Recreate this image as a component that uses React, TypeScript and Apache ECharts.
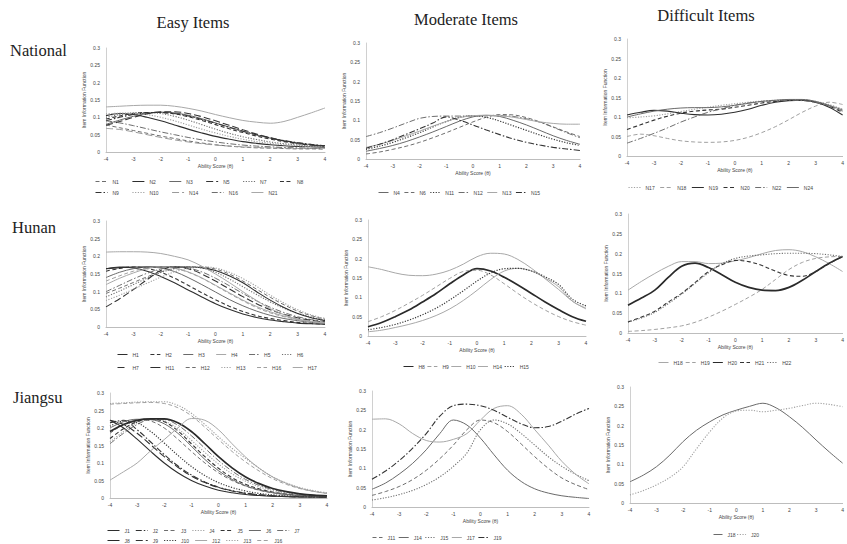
import React, { useEffect, useRef } from 'react';
import * as echarts from 'echarts';

// Ability score grid (theta) shared by every panel
const THETA = [-4, -3.5, -3, -2.5, -2, -1.5, -1, -0.5, 0, 0.5, 1, 1.5, 2, 2.5, 3, 3.5, 4];

const COLUMN_TITLES = ['Easy Items', 'Moderate Items', 'Difficult Items'];
const ROW_TITLES = ['National', 'Hunan', 'Jiangsu'];

// ---------- National ----------
const nationalEasyItems = ['N1', 'N2', 'N3', 'N5', 'N7', 'N8', 'N9', 'N10', 'N14', 'N16', 'N21'];
const nationalEasyValues = [
  [0.078, 0.07, 0.062, 0.054, 0.046, 0.039, 0.032, 0.026, 0.021, 0.017, 0.014, 0.012, 0.011, 0.01, 0.009, 0.009, 0.008],
  [0.105, 0.111, 0.108, 0.1, 0.09, 0.078, 0.066, 0.055, 0.045, 0.037, 0.03, 0.025, 0.021, 0.018, 0.016, 0.015, 0.014],
  [0.08, 0.092, 0.103, 0.111, 0.115, 0.113, 0.106, 0.096, 0.084, 0.072, 0.06, 0.049, 0.04, 0.032, 0.026, 0.021, 0.018],
  [0.077, 0.088, 0.1, 0.11, 0.116, 0.116, 0.111, 0.102, 0.09, 0.077, 0.064, 0.052, 0.041, 0.032, 0.025, 0.02, 0.016],
  [0.1, 0.108, 0.113, 0.114, 0.111, 0.103, 0.092, 0.079, 0.066, 0.054, 0.044, 0.036, 0.029, 0.024, 0.02, 0.017, 0.015],
  [0.095, 0.104, 0.111, 0.114, 0.114, 0.11, 0.102, 0.091, 0.079, 0.067, 0.056, 0.046, 0.037, 0.03, 0.024, 0.02, 0.017],
  [0.09, 0.1, 0.108, 0.113, 0.114, 0.111, 0.104, 0.094, 0.083, 0.071, 0.06, 0.05, 0.041, 0.033, 0.027, 0.022, 0.018],
  [0.11, 0.112, 0.112, 0.108, 0.1, 0.09, 0.078, 0.066, 0.055, 0.045, 0.037, 0.03, 0.025, 0.021, 0.018, 0.016, 0.015],
  [0.068, 0.065, 0.058, 0.05, 0.042, 0.035, 0.029, 0.024, 0.02, 0.017, 0.015, 0.013, 0.012, 0.011, 0.01, 0.01, 0.01],
  [0.09, 0.084, 0.076, 0.067, 0.058, 0.05, 0.042, 0.035, 0.029, 0.024, 0.02, 0.017, 0.015, 0.013, 0.012, 0.011, 0.011],
  [0.13, 0.132, 0.134, 0.135, 0.135, 0.132, 0.126, 0.118, 0.108, 0.099, 0.091, 0.086, 0.083, 0.088, 0.1, 0.113, 0.127],
];

const nationalModerateItems = ['N4', 'N6', 'N11', 'N12', 'N13', 'N15'];
const nationalModerateValues = [
  [0.02, 0.027, 0.035, 0.045, 0.057, 0.07, 0.084, 0.098, 0.109, 0.113, 0.11, 0.1, 0.088, 0.074, 0.06, 0.048, 0.038],
  [0.013, 0.018, 0.025, 0.033, 0.043, 0.055, 0.068, 0.082, 0.096, 0.108, 0.115, 0.114, 0.107, 0.096, 0.083, 0.07, 0.058],
  [0.025, 0.033, 0.043, 0.055, 0.068, 0.083, 0.097, 0.108, 0.112, 0.108, 0.098, 0.086, 0.074, 0.062, 0.051, 0.042, 0.035],
  [0.058, 0.068, 0.08, 0.093, 0.105, 0.11, 0.111, 0.111, 0.111, 0.112, 0.112, 0.11, 0.104, 0.095, 0.082, 0.068, 0.055],
  [0.03, 0.038, 0.048, 0.06, 0.072, 0.085, 0.097, 0.107, 0.112, 0.113, 0.112, 0.108, 0.102, 0.096, 0.092, 0.09, 0.09],
  [0.028, 0.038, 0.05, 0.064, 0.078, 0.093, 0.109, 0.1, 0.088, 0.075, 0.063, 0.052, 0.043, 0.036, 0.03, 0.026, 0.022],
];

const nationalDifficultItems = ['N17', 'N18', 'N19', 'N20', 'N22', 'N24'];
const nationalDifficultValues = [
  [0.098, 0.1, 0.103, 0.108, 0.114, 0.12, 0.125, 0.13, 0.134, 0.138, 0.141, 0.143, 0.144, 0.144, 0.14, 0.132, 0.12],
  [0.05, 0.056, 0.052, 0.045, 0.039, 0.036, 0.035, 0.036, 0.04, 0.048, 0.06, 0.075, 0.093, 0.112, 0.128, 0.138, 0.132],
  [0.105, 0.112, 0.117, 0.115, 0.11, 0.106, 0.105, 0.107, 0.112, 0.12, 0.13, 0.138, 0.142, 0.143, 0.138, 0.125, 0.105],
  [0.068, 0.08, 0.092, 0.102, 0.11, 0.115, 0.118, 0.12, 0.125, 0.13, 0.136, 0.14, 0.143, 0.143, 0.138, 0.128, 0.112],
  [0.033, 0.045, 0.058, 0.072, 0.087, 0.1, 0.112, 0.121, 0.13, 0.136, 0.14, 0.142, 0.143, 0.142, 0.137, 0.128, 0.115],
  [0.1, 0.108, 0.115, 0.12, 0.123, 0.124, 0.124, 0.126, 0.13, 0.135, 0.14, 0.143, 0.145, 0.145, 0.14, 0.13, 0.118],
];

// ---------- Hunan ----------
const hunanEasyItems = ['H1', 'H2', 'H3', 'H4', 'H5', 'H6', 'H7', 'H11', 'H12', 'H13', 'H16', 'H17'];
const hunanEasyValues = [
  [0.165, 0.17, 0.167, 0.158, 0.143, 0.125, 0.105, 0.085, 0.066, 0.05, 0.037, 0.027, 0.02, 0.015, 0.011, 0.009, 0.008],
  [0.158, 0.166, 0.17, 0.166, 0.155, 0.138, 0.118, 0.097, 0.077, 0.059, 0.044, 0.032, 0.024, 0.018, 0.013, 0.01, 0.008],
  [0.14, 0.155, 0.165, 0.17, 0.167, 0.157, 0.14, 0.12, 0.099, 0.078, 0.06, 0.045, 0.033, 0.024, 0.018, 0.013, 0.01],
  [0.12, 0.138, 0.153, 0.165, 0.17, 0.167, 0.156, 0.139, 0.118, 0.097, 0.076, 0.058, 0.043, 0.031, 0.022, 0.016, 0.012],
  [0.1, 0.118, 0.136, 0.152, 0.164, 0.17, 0.167, 0.156, 0.138, 0.117, 0.095, 0.074, 0.056, 0.041, 0.029, 0.021, 0.015],
  [0.085, 0.102, 0.12, 0.138, 0.154, 0.165, 0.17, 0.167, 0.155, 0.136, 0.114, 0.092, 0.071, 0.053, 0.039, 0.028, 0.02],
  [0.057, 0.08, 0.106, 0.134, 0.16, 0.17, 0.165, 0.15, 0.13, 0.108, 0.086, 0.066, 0.049, 0.036, 0.026, 0.019, 0.014],
  [0.165, 0.168, 0.17, 0.17, 0.17, 0.17, 0.17, 0.168, 0.16, 0.145, 0.125, 0.1, 0.076, 0.055, 0.038, 0.026, 0.018],
  [0.095, 0.11, 0.126, 0.142, 0.156, 0.166, 0.17, 0.17, 0.164, 0.15, 0.13, 0.107, 0.084, 0.063, 0.045, 0.032, 0.022],
  [0.075, 0.09, 0.107, 0.124, 0.141, 0.156, 0.166, 0.17, 0.167, 0.155, 0.137, 0.115, 0.09, 0.068, 0.049, 0.034, 0.024],
  [0.13, 0.145, 0.158, 0.167, 0.17, 0.166, 0.155, 0.138, 0.117, 0.095, 0.074, 0.055, 0.04, 0.029, 0.021, 0.015, 0.011],
  [0.212, 0.213, 0.213, 0.212, 0.208, 0.2, 0.19, 0.172, 0.15, 0.126, 0.1, 0.075, 0.052, 0.035, 0.022, 0.016, 0.012],
];

const hunanModerateItems = ['H8', 'H9', 'H10', 'H14', 'H15'];
const hunanModerateValues = [
  [0.024, 0.035, 0.05, 0.067, 0.088, 0.11, 0.135, 0.158, 0.174, 0.168, 0.152, 0.132, 0.11, 0.088, 0.068, 0.05, 0.038],
  [0.037, 0.05, 0.066, 0.085, 0.105, 0.127, 0.149, 0.167, 0.17, 0.158, 0.135, 0.11, 0.087, 0.067, 0.05, 0.037, 0.028],
  [0.179, 0.172, 0.163, 0.157, 0.156, 0.16, 0.17, 0.186, 0.205, 0.214, 0.212, 0.198, 0.175, 0.148, 0.12, 0.09, 0.07],
  [0.011, 0.015, 0.022, 0.03, 0.04, 0.053, 0.07, 0.092, 0.118, 0.146, 0.168, 0.175, 0.168, 0.15, 0.127, 0.09, 0.072],
  [0.016, 0.022, 0.03, 0.041, 0.055, 0.072, 0.093, 0.117, 0.142, 0.163, 0.174, 0.175, 0.168, 0.153, 0.133, 0.095, 0.078],
];

const hunanDifficultItems = ['H18', 'H19', 'H20', 'H21', 'H22'];
const hunanDifficultValues = [
  [0.108, 0.13, 0.15, 0.168, 0.18, 0.18, 0.175, 0.176, 0.182, 0.19, 0.2, 0.208, 0.21, 0.205, 0.192, 0.175, 0.155],
  [0.004, 0.006, 0.009, 0.013, 0.018, 0.027, 0.04, 0.055, 0.072, 0.09, 0.11, 0.135, 0.16, 0.178, 0.188, 0.192, 0.193],
  [0.07, 0.088, 0.108, 0.14, 0.168, 0.176, 0.165, 0.147, 0.128, 0.115, 0.108, 0.107, 0.115, 0.133, 0.155, 0.176, 0.193],
  [0.028, 0.04, 0.055, 0.078, 0.1, 0.127, 0.155, 0.172, 0.183, 0.18, 0.17, 0.156, 0.145, 0.143, 0.155, 0.175, 0.193],
  [0.027, 0.038, 0.052, 0.074, 0.098, 0.125, 0.152, 0.175, 0.188, 0.194, 0.197, 0.2, 0.201, 0.201, 0.2, 0.197, 0.193],
];

// ---------- Jiangsu ----------
const jiangsuEasyItems = ['J1', 'J2', 'J3', 'J4', 'J5', 'J6', 'J7', 'J8', 'J9', 'J10', 'J12', 'J13', 'J16'];
const jiangsuEasyValues = [
  [0.222, 0.2, 0.168, 0.133, 0.1, 0.072, 0.05, 0.034, 0.022, 0.015, 0.01, 0.007, 0.005, 0.004, 0.003, 0.003, 0.002],
  [0.215, 0.222, 0.195, 0.16, 0.124, 0.092, 0.066, 0.046, 0.031, 0.021, 0.014, 0.009, 0.006, 0.005, 0.004, 0.003, 0.003],
  [0.185, 0.21, 0.224, 0.22, 0.2, 0.168, 0.133, 0.1, 0.072, 0.05, 0.034, 0.022, 0.015, 0.01, 0.007, 0.005, 0.004],
  [0.16, 0.19, 0.215, 0.225, 0.22, 0.198, 0.165, 0.13, 0.097, 0.069, 0.048, 0.032, 0.021, 0.014, 0.01, 0.007, 0.005],
  [0.17, 0.198, 0.218, 0.225, 0.218, 0.192, 0.155, 0.118, 0.085, 0.058, 0.039, 0.026, 0.017, 0.011, 0.008, 0.006, 0.004],
  [0.2, 0.218, 0.225, 0.224, 0.212, 0.185, 0.148, 0.11, 0.078, 0.053, 0.035, 0.023, 0.015, 0.01, 0.007, 0.005, 0.004],
  [0.155, 0.185, 0.21, 0.224, 0.224, 0.208, 0.178, 0.142, 0.107, 0.077, 0.053, 0.036, 0.024, 0.016, 0.011, 0.008, 0.006],
  [0.19, 0.21, 0.222, 0.226, 0.226, 0.215, 0.19, 0.155, 0.118, 0.086, 0.06, 0.041, 0.027, 0.018, 0.012, 0.008, 0.006],
  [0.222, 0.21, 0.185, 0.152, 0.118, 0.088, 0.063, 0.044, 0.03, 0.02, 0.013, 0.009, 0.006, 0.004, 0.003, 0.003, 0.002],
  [0.205, 0.22, 0.215, 0.19, 0.157, 0.122, 0.09, 0.064, 0.044, 0.03, 0.02, 0.013, 0.009, 0.006, 0.004, 0.003, 0.003],
  [0.051, 0.075, 0.1, 0.135, 0.167, 0.2, 0.227, 0.222, 0.195, 0.155, 0.117, 0.085, 0.06, 0.042, 0.028, 0.019, 0.013],
  [0.27, 0.272, 0.274, 0.275, 0.275, 0.265, 0.242, 0.21, 0.175, 0.142, 0.113, 0.085, 0.06, 0.043, 0.03, 0.021, 0.015],
  [0.268, 0.27, 0.272, 0.273, 0.27, 0.258, 0.235, 0.202, 0.167, 0.133, 0.103, 0.077, 0.055, 0.039, 0.027, 0.019, 0.013],
];

const jiangsuModerateItems = ['J11', 'J14', 'J15', 'J17', 'J19'];
const jiangsuModerateValues = [
  [0.03, 0.04, 0.053, 0.071, 0.095, 0.125, 0.16, 0.2, 0.225, 0.218, 0.195, 0.163, 0.13, 0.1, 0.075, 0.058, 0.045],
  [0.046, 0.062, 0.085, 0.113, 0.148, 0.19, 0.225, 0.212, 0.178, 0.135, 0.095, 0.066, 0.047, 0.036, 0.029, 0.025, 0.022],
  [0.018, 0.024, 0.032, 0.043, 0.058, 0.078, 0.105, 0.14, 0.2, 0.225, 0.215, 0.19, 0.16, 0.13, 0.105, 0.085, 0.068],
  [0.227, 0.228, 0.215, 0.19, 0.172, 0.168, 0.175, 0.19, 0.225, 0.255, 0.262, 0.24, 0.2, 0.16, 0.118, 0.085, 0.06],
  [0.072, 0.093, 0.12, 0.152, 0.19, 0.235, 0.262, 0.266, 0.262, 0.25, 0.232, 0.215, 0.205, 0.208, 0.222, 0.24, 0.255],
];

const jiangsuDifficultItems = ['J18', 'J20'];
const jiangsuDifficultValues = [
  [0.055, 0.072, 0.094, 0.124, 0.159, 0.188, 0.21, 0.228, 0.24, 0.25, 0.258, 0.246, 0.223, 0.195, 0.163, 0.132, 0.103],
  [0.021, 0.032, 0.047, 0.066, 0.094, 0.14, 0.184, 0.22, 0.238, 0.24, 0.236, 0.24, 0.245, 0.252, 0.258, 0.255, 0.249],
];

// ---------- line styles ----------
const DASH = [4, 2.5];
const LONG = [7, 3];
const DOT = [1.2, 1.5];
const DASHDOT = [6, 2, 1.5, 2];
const STYLE: Record<string, { color: string; width: number; type: any }> = {
  dk: { color: '#2e2e2e', width: 1.1, type: 'solid' },
  dkThick: { color: '#2a2a2a', width: 1.7, type: 'solid' },
  dkDash: { color: '#333', width: 1.1, type: DASH },
  dkLong: { color: '#333', width: 1.1, type: LONG },
  dkDot: { color: '#3a3a3a', width: 1.2, type: DOT },
  dkDashDot: { color: '#333', width: 1.1, type: DASHDOT },
  md: { color: '#6a6a6a', width: 1, type: 'solid' },
  mdDash: { color: '#6e6e6e', width: 1, type: DASH },
  mdDot: { color: '#707070', width: 1.1, type: DOT },
  mdDashDot: { color: '#6e6e6e', width: 1, type: DASHDOT },
  lt: { color: '#a8a8a8', width: 1, type: 'solid' },
  ltDash: { color: '#a0a0a0', width: 1, type: DASH },
  ltLong: { color: '#9a9a9a', width: 1, type: LONG },
  ltDot: { color: '#a0a0a0', width: 1.1, type: DOT },
};

const nationalEasyStyles = ['mdDash', 'dk', 'md', 'dkLong', 'mdDot', 'dkDash', 'dkDashDot', 'ltDot', 'ltLong', 'mdDashDot', 'lt'];
const nationalModerateStyles = ['md', 'mdDash', 'dkDot', 'mdDashDot', 'lt', 'dkDashDot'];
const nationalDifficultStyles = ['ltDot', 'ltDash', 'dk', 'dkDash', 'mdDashDot', 'md'];
const hunanEasyStyles = ['dk', 'dkDash', 'md', 'lt', 'mdDashDot', 'mdDot', 'dkLong', 'dk', 'mdDash', 'ltDot', 'ltDash', 'lt'];
const hunanModerateStyles = ['dkThick', 'ltDash', 'lt', 'lt', 'dkDot'];
const hunanDifficultStyles = ['lt', 'ltDash', 'dkThick', 'dkDash', 'mdDot'];
const jiangsuEasyStyles = ['dk', 'dkDashDot', 'mdDash', 'ltDot', 'dkDash', 'md', 'mdDashDot', 'dkThick', 'dkLong', 'dkDot', 'lt', 'ltDot', 'ltDash'];
const jiangsuModerateStyles = ['mdDash', 'md', 'mdDot', 'lt', 'dkDashDot'];
const jiangsuDifficultStyles = ['md', 'ltDot'];

type LegendRow = { from: number; to: number; left: number; top: number };
type Panel = {
  items: string[];
  values: number[][];
  styles: string[];
  grid: [number, number, number, number];
  legendRows: LegendRow[];
  legendIcon: number;
  legendText: number;
  legendGap: number;
};

const PANELS: Panel[] = [
  { items: nationalEasyItems, values: nationalEasyValues, styles: nationalEasyStyles, grid: [106, 48, 219, 104],
    legendRows: [{ from: 0, to: 6, left: 95, top: 179 }, { from: 6, to: 11, left: 95, top: 190 }], legendIcon: 12, legendText: 10, legendGap: 13 },
  { items: nationalModerateItems, values: nationalModerateValues, styles: nationalModerateStyles, grid: [366, 43, 214, 116],
    legendRows: [{ from: 0, to: 6, left: 378, top: 190 }], legendIcon: 10, legendText: 10, legendGap: 4 },
  { items: nationalDifficultItems, values: nationalDifficultValues, styles: nationalDifficultStyles, grid: [627, 39, 216, 117],
    legendRows: [{ from: 0, to: 6, left: 628, top: 185 }], legendIcon: 12, legendText: 12, legendGap: 5 },
  { items: hunanEasyItems, values: hunanEasyValues, styles: hunanEasyStyles, grid: [106, 221, 219, 106],
    legendRows: [{ from: 0, to: 6, left: 117, top: 352 }, { from: 6, to: 12, left: 117, top: 365 }], legendIcon: 10, legendText: 10, legendGap: 11 },
  { items: hunanModerateItems, values: hunanModerateValues, styles: hunanModerateStyles, grid: [368, 220, 218, 116],
    legendRows: [{ from: 0, to: 5, left: 403, top: 364 }], legendIcon: 10, legendText: 9, legendGap: 2 },
  { items: hunanDifficultItems, values: hunanDifficultValues, styles: hunanDifficultStyles, grid: [628, 214, 217, 119],
    legendRows: [{ from: 0, to: 5, left: 658, top: 360 }], legendIcon: 10, legendText: 10, legendGap: 2.5 },
  { items: jiangsuEasyItems, values: jiangsuEasyValues, styles: jiangsuEasyStyles, grid: [110, 393, 217, 105],
    legendRows: [{ from: 0, to: 7, left: 107, top: 528 }, { from: 7, to: 13, left: 107, top: 538 }], legendIcon: 12, legendText: 10, legendGap: 5.5 },
  { items: jiangsuModerateItems, values: jiangsuModerateValues, styles: jiangsuModerateStyles, grid: [372, 391, 217, 116],
    legendRows: [{ from: 0, to: 5, left: 372, top: 535 }], legendIcon: 10, legendText: 10, legendGap: 3 },
  { items: jiangsuDifficultItems, values: jiangsuDifficultValues, styles: jiangsuDifficultStyles, grid: [630, 387, 215, 116],
    legendRows: [{ from: 0, to: 2, left: 713, top: 532 }], legendIcon: 9, legendText: 9, legendGap: 1 },
];

const COLUMN_TITLE_POS = [[193, 22], [466, 19], [706, 15]];
const ROW_TITLE_POS = [[10, 50], [12, 227], [13, 397]];

function buildOption() {
  const grid: any[] = [];
  const xAxis: any[] = [];
  const yAxis: any[] = [];
  const series: any[] = [];
  const legend: any[] = [];
  const axisText = { fontSize: 5, color: '#444', fontFamily: 'Liberation Sans' };

  PANELS.forEach((p, i) => {
    grid.push({ left: p.grid[0], top: p.grid[1], width: p.grid[2], height: p.grid[3], containLabel: false });
    xAxis.push({
      gridIndex: i, type: 'value', min: -4, max: 4, interval: 1,
      name: 'Ability Score (θ)', nameLocation: 'middle', nameGap: 11, nameTextStyle: axisText,
      axisLine: { show: true, onZero: false, lineStyle: { color: '#bdbdbd', width: 1 } },
      axisTick: { show: false }, axisLabel: { ...axisText, margin: 4 }, splitLine: { show: false },
    });
    yAxis.push({
      gridIndex: i, type: 'value', min: 0, max: 0.3, interval: 0.05,
      name: 'Item Information Function', nameLocation: 'middle', nameGap: 18, nameTextStyle: axisText,
      axisLine: { show: true, onZero: false, lineStyle: { color: '#d0d0d0', width: 1 } },
      axisTick: { show: false }, axisLabel: { ...axisText, margin: 6 }, splitLine: { show: false },
    });
    p.items.forEach((name, k) => {
      const st = STYLE[p.styles[k]];
      series.push({
        type: 'line', name, xAxisIndex: i, yAxisIndex: i,
        data: THETA.map((t, j) => [t, p.values[k][j]]),
        smooth: 0.35, symbol: 'none', showSymbol: false, color: st.color,
        lineStyle: { color: st.color, width: st.width, type: st.type },
        emphasis: { disabled: true },
      });
    });
    p.legendRows.forEach((r) => {
      legend.push({
        data: p.items.slice(r.from, r.to), left: r.left, top: r.top, orient: 'horizontal',
        itemWidth: p.legendIcon, itemHeight: 5, itemGap: p.legendGap, padding: 0,
        selectedMode: false,
        itemStyle: { opacity: 0 },
        lineStyle: { width: 1 },
        textStyle: { fontSize: 5, color: '#444', fontFamily: 'Liberation Sans', width: p.legendText, overflow: 'none' },
      });
    });
  });

  const graphic: any[] = [];
  COLUMN_TITLES.forEach((t, i) => {
    graphic.push({
      type: 'text', x: COLUMN_TITLE_POS[i][0], y: COLUMN_TITLE_POS[i][1],
      style: { text: t, font: '16.5px "Liberation Serif"', fill: '#222', textAlign: 'center', textVerticalAlign: 'middle' },
    });
  });
  ROW_TITLES.forEach((t, i) => {
    graphic.push({
      type: 'text', x: ROW_TITLE_POS[i][0], y: ROW_TITLE_POS[i][1],
      style: { text: t, font: '16.5px "Liberation Serif"', fill: '#222', textAlign: 'left', textVerticalAlign: 'middle' },
    });
  });

  return { animation: false, backgroundColor: '#ffffff', grid, xAxis, yAxis, series, legend, graphic };
}

export default function App() {
  const ref = useRef<HTMLDivElement>(null);
  useEffect(() => {
    if (!ref.current) return;
    const chart = echarts.init(ref.current, undefined, { renderer: 'svg' });
    chart.setOption(buildOption());
    return () => chart.dispose();
  }, []);
  return <div ref={ref} style={{ position: 'absolute', left: 0, top: 0, width: 847, height: 544, background: '#fff' }} />;
}
